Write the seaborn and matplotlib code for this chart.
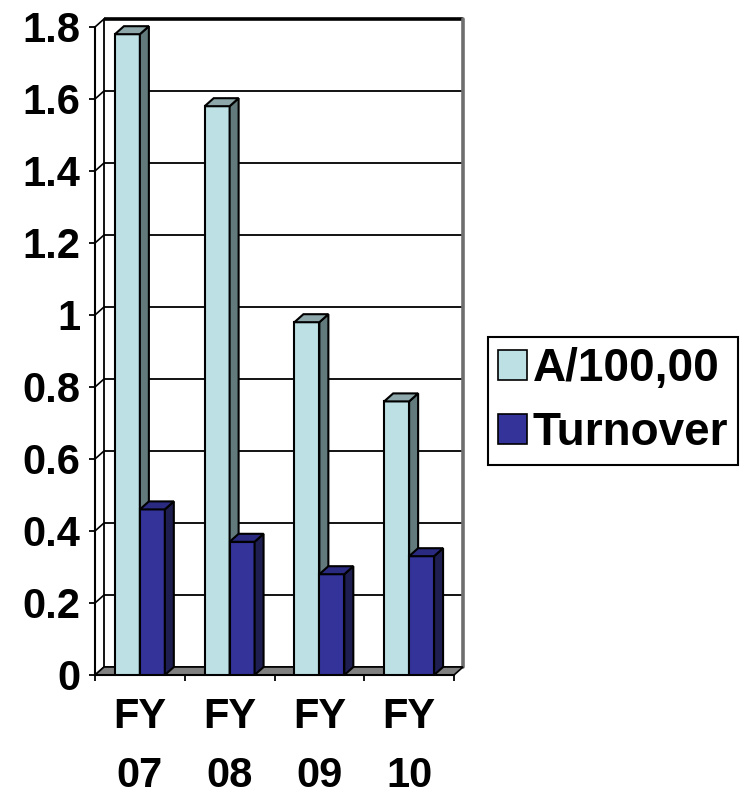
import matplotlib
matplotlib.use("Agg")
import matplotlib.pyplot as plt
import pandas as pd
import seaborn as sns
from matplotlib.patches import Polygon

# ---- data ----
years = ["FY\n07", "FY\n08", "FY\n09", "FY\n10"]
series = ["A/100,00", "Turnover"]
a_values = [1.78, 1.58, 0.98, 0.76]
turnover_values = [0.46, 0.37, 0.28, 0.33]
y_ticks = [0, 0.2, 0.4, 0.6, 0.8, 1.0, 1.2, 1.4, 1.6, 1.8]
y_tick_labels = ["0", "0.2", "0.4", "0.6", "0.8", "1", "1.2", "1.4", "1.6", "1.8"]

# ---- styling ----
front_colors = {"A/100,00": "#BCE0E4", "Turnover": "#333399"}
side_colors = {"A/100,00": "#627A7C", "Turnover": "#1E1E50"}
top_colors = {"A/100,00": "#8DA7AA", "Turnover": "#2A2A80"}

sns.set_theme(style="white")
plt.rcParams["font.family"] = ["Liberation Sans", "DejaVu Sans"]
plt.rcParams["font.weight"] = "bold"
plt.rcParams["text.color"] = "black"
plt.rcParams["xtick.color"] = "black"
plt.rcParams["ytick.color"] = "black"
plt.rcParams["axes.labelcolor"] = "black"

df = pd.DataFrame({
    "year": years * 2,
    "series": [series[0]] * len(years) + [series[1]] * len(years),
    "value": a_values + turnover_values,
})

W, H = 751, 798
fig = plt.figure(figsize=(W / 100, H / 100), dpi=100)
ax_px_w, ax_px_h = 359, 648
ax = fig.add_axes([95 / W, 123 / H, ax_px_w / W, ax_px_h / H])

sns.barplot(data=df, x="year", y="value", hue="series", palette=front_colors,
            saturation=1, width=0.556, edgecolor="black", linewidth=1.5, ax=ax)

ax.set_xlim(-0.5, len(years) - 0.5)
ax.set_ylim(0, 1.8)
x0, x1 = ax.get_xlim()
y0, y1 = ax.get_ylim()

# depth offset of the 3-D box, expressed in data units
ox = 9 * (x1 - x0) / ax_px_w
oy = 8 * (y1 - y0) / ax_px_h

# floor
ax.add_patch(Polygon([(x0, 0), (x1, 0), (x1 + ox, oy), (x0 + ox, oy)],
                     closed=True, facecolor="#808080", edgecolor="black",
                     linewidth=1.2, zorder=2, clip_on=False))

# back wall gridlines and side-wall connectors
for t in y_ticks:
    lw = 2.6 if t == y_ticks[-1] else 1.3
    ax.plot([x0 + ox, x1 + ox], [t + oy, t + oy], color="black", lw=lw,
            zorder=1, clip_on=False, solid_capstyle="butt")
    ax.plot([x0, x0 + ox], [t, t + oy], color="black", lw=1.2,
            zorder=1, clip_on=False)
ax.plot([x0 + ox, x0 + ox], [oy, y1 + oy], color="black", lw=1.3,
        zorder=1, clip_on=False)
ax.plot([x1 + ox, x1 + ox], [oy, y1 + oy], color="#6E6E6E", lw=2.6,
        zorder=1, clip_on=False)

# extrude every bar: side and top faces
for i, container in enumerate(ax.containers):
    name = series[i]
    for bar in container:
        bar.set_zorder(3 + i)
        bx0 = bar.get_x()
        bx1 = bx0 + bar.get_width()
        h = bar.get_height()
        side = Polygon([(bx1, 0), (bx1 + ox, oy), (bx1 + ox, h + oy), (bx1, h)],
                       closed=True, facecolor=side_colors[name],
                       edgecolor="black", linewidth=1.5, zorder=3 + i,
                       clip_on=False)
        top = Polygon([(bx0, h), (bx1, h), (bx1 + ox, h + oy), (bx0 + ox, h + oy)],
                      closed=True, facecolor=top_colors[name],
                      edgecolor="black", linewidth=1.5, zorder=3 + i,
                      clip_on=False)
        ax.add_patch(side)
        ax.add_patch(top)

# axes frame
for s in ["top", "right"]:
    ax.spines[s].set_visible(False)
for s in ["left", "bottom"]:
    ax.spines[s].set_color("black")
    ax.spines[s].set_linewidth(1.5)
    ax.spines[s].set_zorder(2.5)
ax.set_facecolor("none")
ax.grid(False)

ax.set_yticks(y_ticks)
ax.set_yticklabels(y_tick_labels)
ax.tick_params(axis="y", direction="out", length=4.5, width=1.3, pad=6,
               labelsize=30, left=True, color="black", labelcolor="black")
ax.set_xticks(range(len(years)))
ax.set_xticklabels(years)
ax.set_xticks([k - 0.5 for k in range(len(years) + 1)], minor=True)
ax.tick_params(axis="x", which="major", length=0, pad=16, labelsize=30,
               labelcolor="black")
ax.tick_params(axis="x", which="minor", direction="out", length=4.5,
               width=1.3, bottom=True, color="black")
ax.set_xlabel("")
ax.set_ylabel("")

# legend
handles, labels = ax.get_legend_handles_labels()
leg = ax.legend(handles, labels, loc="center left",
                bbox_to_anchor=(488 / W, (H - 401) / H),
                bbox_transform=fig.transFigure, frameon=True, fancybox=False,
                edgecolor="black", framealpha=1,
                prop={"size": 33, "weight": "bold"},
                handlelength=0.63, handleheight=0.63, handletextpad=0.12,
                borderpad=0.22, labelspacing=0.45, borderaxespad=0)
leg.get_frame().set_linewidth(1.5)
for hnd in leg.legend_handles:
    hnd.set_edgecolor("black")
    hnd.set_linewidth(1.2)

# finalise tick label styling once the ticks exist
fig.canvas.draw()
for tick in ax.xaxis.get_major_ticks():
    tick.label1.set_linespacing(1.62)
for lab in ax.get_xticklabels() + ax.get_yticklabels():
    lab.set_fontweight("bold")

fig.savefig("out.png", dpi=100)
